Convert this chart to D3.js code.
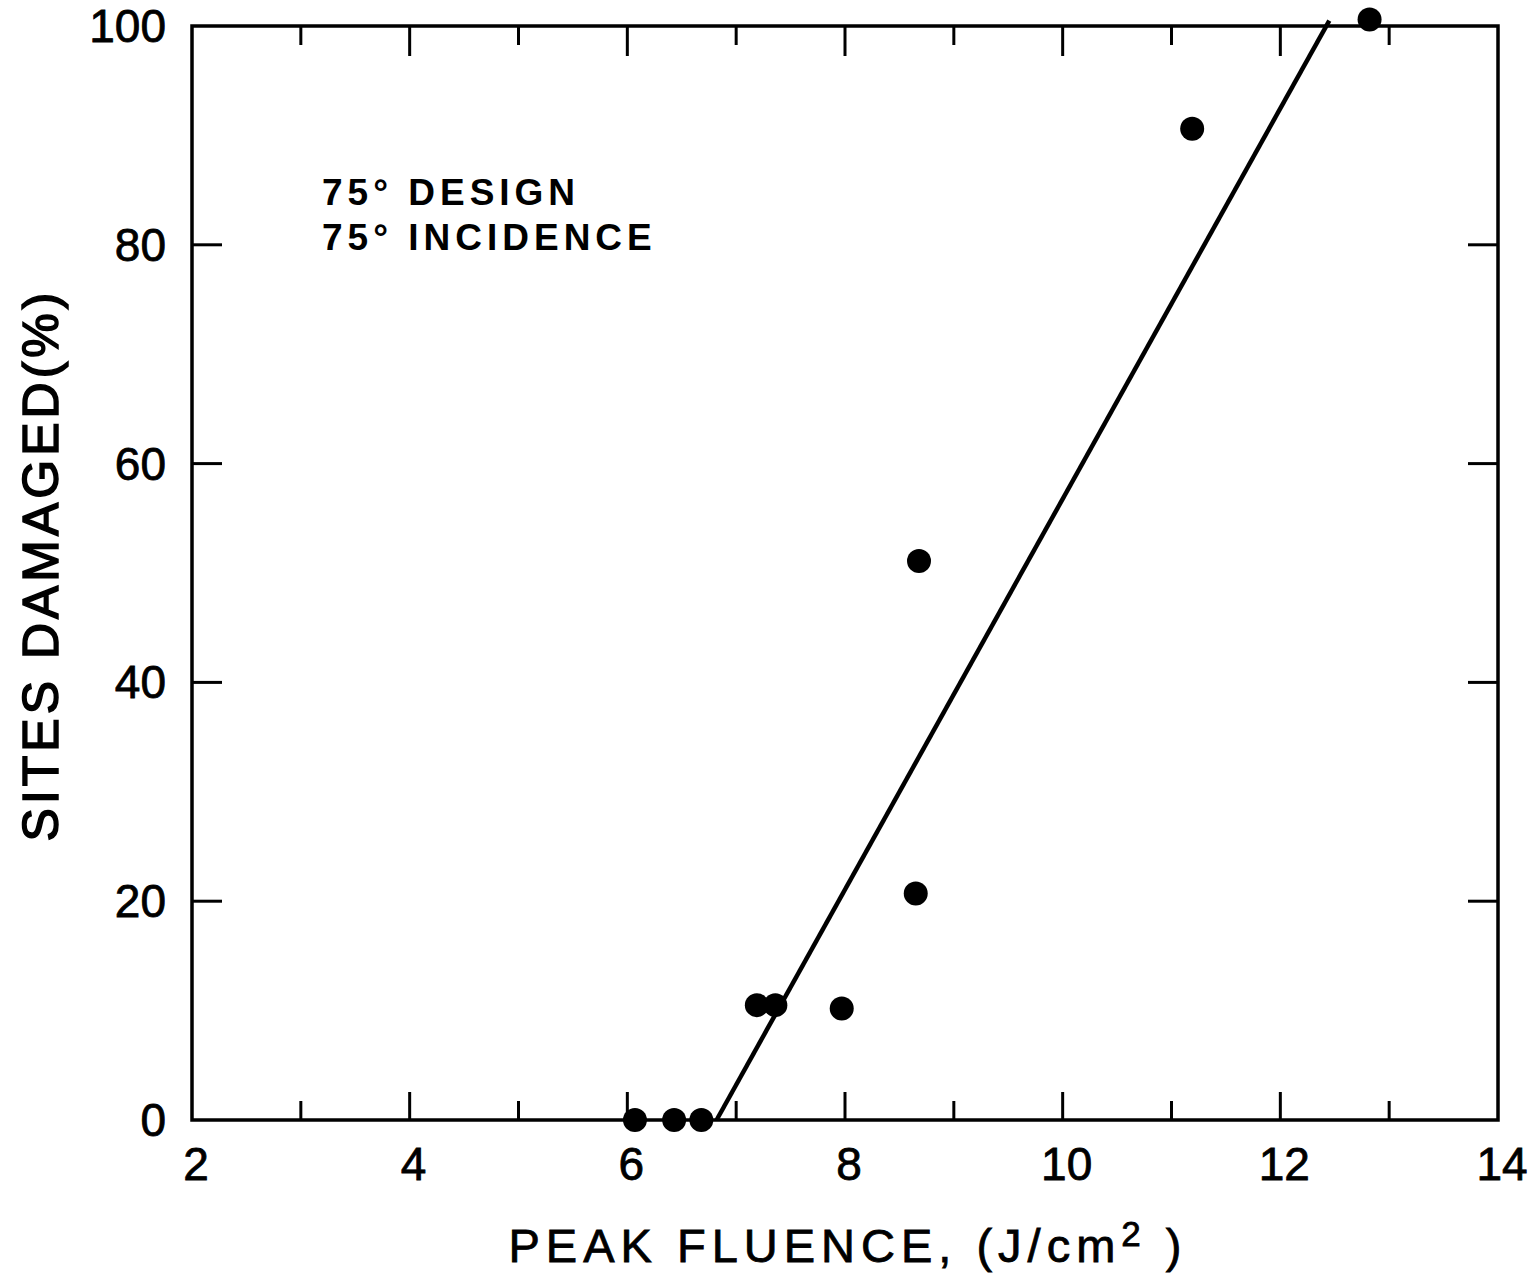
<!DOCTYPE html>
<html><head><meta charset="utf-8">
<script src="https://cdn.jsdelivr.net/npm/d3@7"></script>
<style>body{margin:0;background:#fff}svg{display:block}text{font-family:"Liberation Sans",Arial,sans-serif;fill:#000}</style>
</head><body>
<script>
const fluence = [6.07, 6.43, 6.68, 7.19, 7.36, 7.97, 8.65, 8.68, 11.19, 12.82];
const damaged = [0, 0, 0, 10.5, 10.5, 10.2, 20.7, 51.1, 90.6, 100.6];
const fitX = [6.82, 12.45];
const fitY = [0, 100.5];
const xTicks = [2, 4, 6, 8, 10, 12, 14];
const xMinor = [3, 5, 7, 9, 11, 13];
const yTicks = [0, 20, 40, 60, 80, 100];
const xTitle = "PEAK FLUENCE, (J/cm";
const yTitle = "SITES DAMAGED(%)";
const notes = ["75° DESIGN", "75° INCIDENCE"];

const W = 1538, H = 1273;
const svg = d3.select("body").append("svg").attr("width", W).attr("height", H);
const x = d3.scaleLinear().domain([2, 14]).range([192, 1498]);
const y = d3.scaleLinear().domain([0, 100]).range([1120, 26]);

const g = svg.append("g").attr("stroke", "#000").attr("fill", "none");
g.append("rect").attr("x", x(2)).attr("y", y(100)).attr("width", x(14) - x(2)).attr("height", y(0) - y(100)).attr("stroke-width", 3.5);
xTicks.filter(t => t > 2 && t < 14).forEach(t => {
  g.append("line").attr("x1", x(t)).attr("x2", x(t)).attr("y1", y(0)).attr("y2", y(0) - 28).attr("stroke-width", 3);
  g.append("line").attr("x1", x(t)).attr("x2", x(t)).attr("y1", y(100)).attr("y2", y(100) + 30).attr("stroke-width", 3);
});
xMinor.forEach(t => {
  g.append("line").attr("x1", x(t)).attr("x2", x(t)).attr("y1", y(0)).attr("y2", y(0) - 19).attr("stroke-width", 3);
  g.append("line").attr("x1", x(t)).attr("x2", x(t)).attr("y1", y(100)).attr("y2", y(100) + 19).attr("stroke-width", 3);
});
yTicks.filter(t => t > 0 && t < 100).forEach(t => {
  g.append("line").attr("x1", x(2)).attr("x2", x(2) + 30).attr("y1", y(t)).attr("y2", y(t)).attr("stroke-width", 3);
  g.append("line").attr("x1", x(14)).attr("x2", x(14) - 30).attr("y1", y(t)).attr("y2", y(t)).attr("stroke-width", 3);
});

svg.append("g").selectAll("text").data(xTicks).join("text")
  .attr("x", d => x(d) + 4).attr("y", 1180).attr("text-anchor", "middle")
  .attr("font-size", 46).attr("stroke", "#000").attr("stroke-width", 0.8).text(d => d);
svg.append("g").selectAll("text").data(yTicks).join("text")
  .attr("x", 166).attr("y", d => y(d) + 16).attr("text-anchor", "end")
  .attr("font-size", 46).attr("stroke", "#000").attr("stroke-width", 0.8).text(d => d);

const fit = fitX.map((v, i) => [v, fitY[i]]);
svg.append("path").datum(fit)
  .attr("d", d3.line().x(d => x(d[0])).y(d => y(d[1])))
  .attr("stroke", "#000").attr("stroke-width", 4.5).attr("fill", "none");

svg.append("g").selectAll("circle").data(fluence.map((v, i) => [v, damaged[i]])).join("circle")
  .attr("cx", d => x(d[0])).attr("cy", d => y(d[1])).attr("r", 12).attr("fill", "#000");

svg.append("g").selectAll("text").data(notes).join("text")
  .attr("x", 322).attr("y", (d, i) => 205 + i * 45)
  .attr("font-size", 37).attr("font-weight", "bold").attr("letter-spacing", 5)
  .text(d => d);

const xt = svg.append("text").attr("x", 848).attr("y", 1262).attr("text-anchor", "middle")
  .attr("font-size", 47).attr("letter-spacing", 6).attr("stroke", "#000").attr("stroke-width", 0.8);
xt.append("tspan").text(xTitle);
xt.append("tspan").attr("dy", -16).attr("font-size", 35).text("2");
xt.append("tspan").attr("dy", 16).text(" )");

svg.append("text").attr("transform", "translate(58,565) rotate(-90)")
  .attr("text-anchor", "middle").attr("font-size", 50).attr("letter-spacing", 4)
  .attr("stroke", "#000").attr("stroke-width", 1.5)
  .text(yTitle);
</script>
</body></html>
